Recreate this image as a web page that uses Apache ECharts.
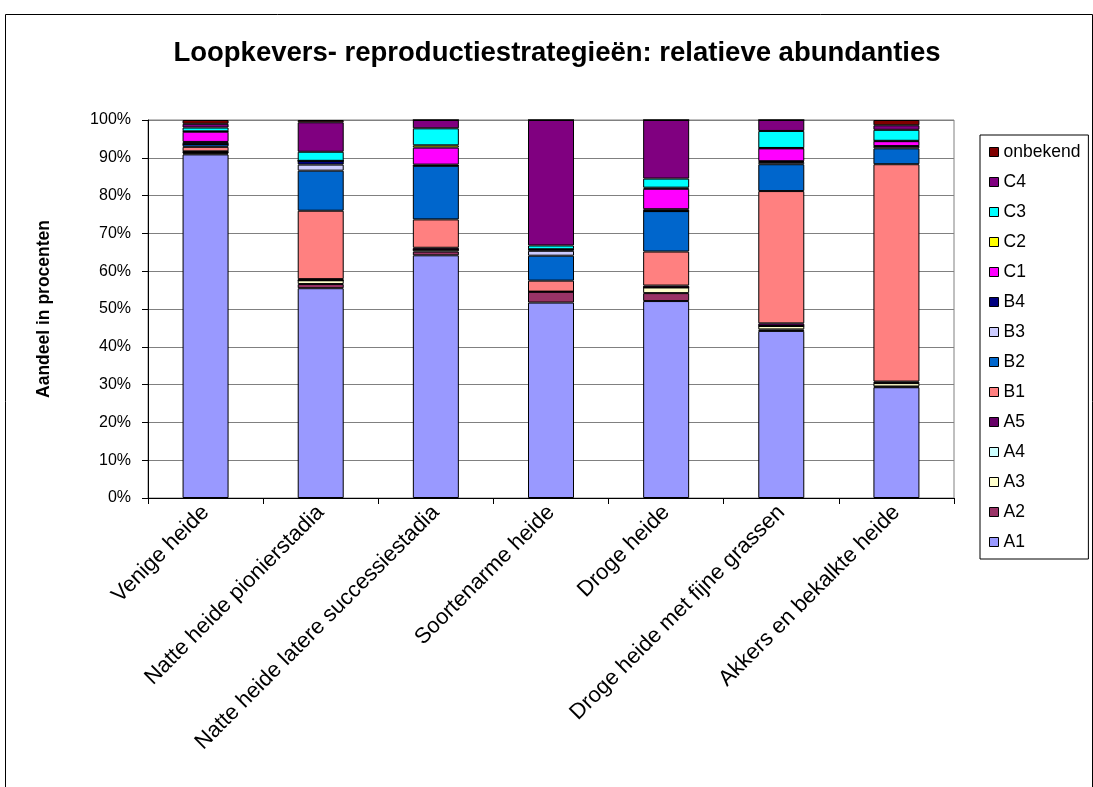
<!DOCTYPE html>
<html>
<head>
<meta charset="utf-8">
<script src="https://cdn.jsdelivr.net/npm/echarts@6/dist/echarts.min.js"></script>
<style>
html,body{margin:0;padding:0;background:#fff;}
#chart{width:1093px;height:787px;}
</style>
</head>
<body>
<div id="chart"></div>
<script>
const categories = ['Venige heide', 'Natte heide pionierstadia', 'Natte heide latere successiestadia', 'Soortenarme heide', 'Droge heide', 'Droge heide met fijne grassen', 'Akkers en bekalkte heide'];
const yTicks = [0, 10, 20, 30, 40, 50, 60, 70, 80, 90, 100];

const A1 = [90.9, 55.5, 64.2, 51.7, 52.1, 44.2, 29.3];
const A2 = [0.3, 1.1, 1.0, 2.9, 2.1, 0.4, 0.2];
const A3 = [0.3, 1.0, 0.5, 0, 1.5, 0.9, 0.9];
const A4 = [0, 0, 0, 0, 0, 0, 0.1];
const A5 = [0.2, 0.3, 0.5, 0, 0.5, 0.7, 0.3];
const B1 = [1.2, 18.1, 7.5, 2.9, 9.0, 35.0, 57.5];
const B2 = [0.7, 10.6, 14.2, 6.6, 10.7, 7.1, 4.2];
const B3 = [0, 1.6, 0, 1.3, 0, 0.6, 0.5];
const B4 = [0.6, 1.0, 0.3, 0.4, 0.5, 0.2, 0.1];
const C1 = [2.7, 0, 4.5, 0, 5.4, 3.4, 1.3];
const C2 = [0.1, 0, 0.6, 0, 0.3, 0.1, 0.1];
const C3 = [1.0, 2.4, 4.5, 1.0, 2.4, 4.5, 2.9];
const C4 = [1.0, 7.8, 2.2, 33.2, 15.5, 2.9, 1.2];
const onbekend = [1.0, 0.6, 0, 0, 0, 0, 1.4];

const seriesNames = ['A1','A2','A3','A4','A5','B1','B2','B3','B4','C1','C2','C3','C4','onbekend'];
const seriesData = [A1,A2,A3,A4,A5,B1,B2,B3,B4,C1,C2,C3,C4,onbekend];
const colors = ['#9999FF','#993366','#FFFFCC','#CCFFFF','#660066','#FF8080','#0066CC','#CCCCFF','#000080','#FF00FF','#FFFF00','#00FFFF','#800080','#800000'];

const font = 'Liberation Sans, Arial, sans-serif';

const chart = echarts.init(document.getElementById('chart'));
chart.setOption({
  animation: false,
  backgroundColor: '#fff',
  title: {
    text: 'Loopkevers- reproductiestrategieën: relatieve abundanties',
    left: 552, textAlign: 'center', top: 34,
    textStyle: {fontFamily: font, fontSize: 27.5, fontWeight: 'bold', color: '#000'}
  },
  graphic: [{
    type: 'rect', left: 3, top: 12, silent: true,
    shape: {width: 1087, height: 800},
    style: {fill: 'none', stroke: '#000', lineWidth: 1}
  }],
  legend: {
    orient: 'vertical', left: 980, top: 135,
    data: seriesNames.slice().reverse(),
    itemWidth: 9, itemHeight: 9, itemGap: 12,
    padding: [8, 8, 8, 9],
    borderColor: '#000', borderWidth: 1,
    icon: 'rect',
    textStyle: {fontFamily: font, fontSize: 17.5, color: '#000', lineHeight: 18},
    itemStyle: {borderColor: '#000', borderWidth: 1}
  },
  grid: {left: 148, top: 120, width: 806, height: 378, show: true, borderColor: '#808080', borderWidth: 1, backgroundColor: '#fff'},
  xAxis: {
    type: 'category', data: categories,
    axisLine: {lineStyle: {color: '#000'}},
    axisTick: {show: true, length: 6, lineStyle: {color: '#000'}},
    axisLabel: {rotate: 45, fontFamily: font, fontSize: 22, color: '#000', margin: 11, interval: 0}
  },
  yAxis: {
    type: 'value', min: yTicks[0], max: yTicks[yTicks.length-1], interval: 10,
    name: 'Aandeel in procenten', nameLocation: 'middle', nameGap: 95,
    nameTextStyle: {fontFamily: font, fontSize: 17.5, fontWeight: 'bold', color: '#000'},
    axisLine: {show: true, lineStyle: {color: '#000'}},
    axisTick: {show: true, length: 6, lineStyle: {color: '#000'}},
    axisLabel: {formatter: '{value}%', fontFamily: font, fontSize: 16, color: '#000', margin: 17},
    splitLine: {lineStyle: {color: '#808080', width: 1}}
  },
  series: seriesNames.map((n, i) => ({
    name: n, type: 'bar', stack: 'total', data: seriesData[i],
    barWidth: 46,
    itemStyle: {color: colors[i], borderColor: '#000', borderWidth: 1}
  }))
});
</script>
</body>
</html>
